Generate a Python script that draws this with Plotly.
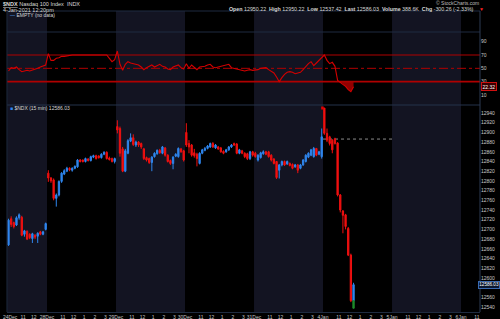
import plotly.graph_objects as go

W, H = 500, 319

# ---------------- data ----------------
day_labels = ["24Dec", "28Dec", "29Dec", "30Dec", "31Dec", "4Jan", "5Jan", "6Jan"]
day_first_bar = [0, 15, 41, 67, 93, 119, 145, 171]
day_bar_count = [15, 26, 26, 26, 26, 26, 26, 26]
hour_labels = ["11", "12", "1", "2", "3"]
hour_bar_offsets = [6, 10, 14, 18, 22]
shaded_days = ["24Dec", "29Dec", "31Dec", "5Jan"]

open_ = [
    12668, 12722, 12714, 12709, 12724, 12725, 12690, 12696, 12690, 12681, 12688, 12686, 12695, 12690, 12700,
    12816, 12806, 12802, 12764, 12771, 12799, 12814, 12820, 12826, 12822, 12826, 12829, 12843, 12843, 12840,
    12845, 12842, 12849, 12852, 12851, 12848, 12855, 12859, 12847, 12846, 12840,
    12912, 12908, 12866, 12820, 12857, 12882, 12889, 12874, 12880, 12877, 12866, 12848, 12846, 12838, 12850,
    12856, 12863, 12857, 12868, 12853, 12842, 12836, 12851, 12850, 12866, 12862,
    12900, 12877, 12874, 12858, 12855, 12836, 12857, 12863, 12867, 12870, 12877, 12868, 12870, 12868, 12861,
    12860, 12864, 12870, 12877, 12876, 12857, 12862, 12857, 12856, 12846, 12860,
    12857, 12843, 12848, 12856, 12860, 12860, 12853, 12845, 12840, 12822, 12833, 12840, 12835, 12836, 12834,
    12829, 12833, 12826, 12833, 12840, 12849, 12853, 12850, 12867, 12855, 12850,
    12950.22, 12898, 12891, 12884, 12887, 12878, 12771, 12738, 12730, 12702, 12647, 12553,
]
high = [
    12722, 12727, 12716, 12727, 12733, 12728, 12699, 12698, 12692, 12693, 12690, 12694, 12697, 12697, 12714,
    12822, 12808, 12805, 12774, 12801, 12818, 12824, 12829, 12828, 12828, 12832, 12845, 12845, 12844, 12848,
    12847, 12852, 12854, 12854, 12853, 12857, 12861, 12861, 12850, 12848, 12848,
    12925, 12912, 12870, 12866, 12886, 12898, 12896, 12883, 12882, 12879, 12868, 12850, 12848, 12851, 12859,
    12865, 12866, 12872, 12870, 12855, 12844, 12851, 12857, 12869, 12868, 12864,
    12919, 12884, 12876, 12866, 12858, 12859, 12866, 12870, 12874, 12879, 12880, 12876, 12872, 12870, 12863,
    12866, 12872, 12876, 12879, 12878, 12866, 12864, 12859, 12858, 12862, 12862,
    12860, 12855, 12860, 12863, 12862, 12862, 12855, 12847, 12841, 12835, 12842, 12842, 12842, 12838, 12836,
    12835, 12835, 12835, 12845, 12855, 12859, 12866, 12870, 12867, 12862, 12908,
    12950.22, 12908, 12893, 12886, 12889, 12880, 12773, 12740, 12732, 12705, 12650, 12590,
]
low = [
    12666, 12705, 12702, 12707, 12720, 12686, 12685, 12678, 12680, 12672, 12680, 12672, 12688, 12688, 12698,
    12798, 12796, 12760, 12747, 12768, 12796, 12812, 12818, 12820, 12819, 12824, 12827, 12838, 12838, 12838,
    12840, 12840, 12847, 12844, 12846, 12846, 12853, 12844, 12842, 12838, 12836,
    12898, 12850, 12818, 12818, 12855, 12880, 12872, 12870, 12870, 12866, 12843, 12840, 12835, 12820, 12848,
    12854, 12856, 12855, 12850, 12838, 12833, 12824, 12849, 12848, 12858, 12840,
    12870, 12857, 12850, 12848, 12830, 12834, 12855, 12861, 12865, 12868, 12868, 12866, 12864, 12858, 12855,
    12858, 12862, 12868, 12872, 12855, 12855, 12855, 12847, 12843, 12843, 12850,
    12848, 12840, 12846, 12854, 12853, 12848, 12840, 12834, 12804, 12805, 12830, 12831, 12833, 12830, 12824,
    12827, 12816, 12824, 12831, 12838, 12847, 12851, 12848, 12851, 12853, 12846,
    12895, 12880, 12873, 12857, 12875, 12768, 12735, 12692, 12700, 12645, 12550, 12553,
]
close = [
    12719, 12710, 12706, 12724, 12730, 12688, 12697, 12680, 12683, 12691, 12684, 12692, 12690, 12695, 12712,
    12806, 12800, 12764, 12771, 12799, 12816, 12821, 12826, 12823, 12826, 12830, 12843, 12840, 12840, 12846,
    12842, 12850, 12852, 12846, 12848, 12855, 12859, 12846, 12844, 12840, 12846,
    12905, 12857, 12820, 12862, 12883, 12889, 12875, 12880, 12874, 12870, 12846, 12843, 12838, 12849, 12857,
    12863, 12858, 12870, 12853, 12840, 12836, 12849, 12855, 12867, 12860, 12843,
    12874, 12870, 12853, 12852, 12846, 12857, 12864, 12867, 12872, 12877, 12870, 12874, 12866, 12860, 12857,
    12864, 12870, 12874, 12874, 12857, 12864, 12857, 12850, 12846, 12860, 12853,
    12850, 12853, 12858, 12860, 12855, 12850, 12843, 12836, 12807, 12833, 12840, 12833, 12840, 12832, 12826,
    12833, 12822, 12833, 12843, 12853, 12857, 12864, 12867, 12853, 12860, 12891,
    12898, 12884, 12877, 12864, 12877, 12771, 12740, 12729, 12706, 12647, 12553, 12586.03,
]
# lower (green) part of the still-forming last bar
last_bar_open = [12553]
last_bar_low = [12537.42]

rsi = [
    46, 51, 50, 52, 48, 45, 46, 47, 46, 47, 49, 50, 52, 53, 55,
    72, 62, 62, 65, 66, 68, 68, 69, 69, 70, 70, 70, 71, 71, 70,
    71, 71, 71, 71, 71, 71, 71, 70, 65, 60, 63,
    76, 56, 47, 56, 60, 58, 57, 56, 55, 52, 48, 51, 53, 55, 52,
    54, 56, 53, 52, 49, 48, 52, 54, 55, 51, 49,
    57, 50, 55, 52, 48, 52, 52, 53, 55, 56, 52, 51, 52, 53, 55,
    55, 56, 51, 50, 50, 49, 48, 46, 47, 48, 47,
    47, 48, 50, 51, 51, 48, 46, 43, 37, 30, 36, 41, 44, 45, 44,
    42, 43, 44, 48, 53, 57, 60, 54, 58, 62, 66,
    70, 62, 57, 59, 53, 32, 29, 27, 23, 18, 15, 22.32,
]
rsi_levels = [70, 50, 30]
rsi_ticks = [10, 30, 50, 70, 90]
price_ticks = [v for v in range(12540, 12941, 20) if v != 12580]  # 12580 sits under the last-price box
prev_close = 12886.29
last_price = 12586.03
last_rsi = 22.32

# ---------------- helpers ----------------
def px(x):
    return x / W

def py(y):
    return 1 - y / H

x_idx = list(range(len(close)))
X_RANGE = [-0.57, 177.65]
RSI_RANGE = [-5, 136]
PRICE_RANGE = [12529.7, 12956.5]

PLOT_L, PLOT_R = 7, 480
RSI_TOP, SEP, PLOT_B = 11, 105, 312

BAND = "#131422"
BORDER = "#1f2b40"
TXT = "#d8d8d8"
FONT = "Liberation Sans"

fig = go.Figure()

# RSI oversold fill (below 30)
fx, fy = [], []
for i in range(1, len(rsi)):
    a, b = rsi[i - 1], rsi[i]
    if a >= 30 > b:
        t = (a - 30) / (a - b)
        fx.append(i - 1 + t)
        fy.append(30)
    if b < 30:
        fx.append(i)
        fy.append(b)
if fx:
    fx.append(fx[-1]); fy.append(30)
    fig.add_trace(go.Scatter(x=fx, y=fy, fill="toself", mode="none",
                             fillcolor="rgba(170,0,0,0.85)", xaxis="x", yaxis="y",
                             hoverinfo="skip", showlegend=False))

fig.add_trace(go.Scatter(x=x_idx, y=rsi, mode="lines", line=dict(color="#d40000", width=1.1),
                         xaxis="x", yaxis="y", showlegend=False))

fig.add_trace(go.Candlestick(
    x=x_idx, open=open_, high=high, low=low, close=close,
    increasing=dict(line=dict(color="#2f86ee", width=1), fillcolor="#2f86ee"),
    decreasing=dict(line=dict(color="#f01010", width=1), fillcolor="#f01010"),
    xaxis="x", yaxis="y2", showlegend=False, whiskerwidth=0))

fig.add_trace(go.Candlestick(
    x=[x_idx[-1]], open=last_bar_open, high=last_bar_open, low=last_bar_low, close=last_bar_low,
    increasing=dict(line=dict(color="#1f8a2a", width=1), fillcolor="#1f8a2a"),
    decreasing=dict(line=dict(color="#1f8a2a", width=1), fillcolor="#1f8a2a"),
    xaxis="x", yaxis="y2", showlegend=False, whiskerwidth=0))

# ---------------- x ticks ----------------
tickvals, ticktext = [], []
for lab, first, n in zip(day_labels, day_first_bar, day_bar_count):
    b = first - 0.5
    # the first day's label is nudged right so it stays inside the page
    tickvals.append(b if b > 0 else b + 1.1); ticktext.append(lab)
    for hl, off in zip(hour_labels, hour_bar_offsets):
        v = b + off
        if off <= n - 2 and v < X_RANGE[1]:
            tickvals.append(v); ticktext.append(hl)

shapes = []
# day bands
for lab, first, n in zip(day_labels, day_first_bar, day_bar_count):
    if lab in shaded_days:
        shapes.append(dict(type="rect", xref="x", yref="paper", x0=first - 0.5, x1=first - 0.5 + n,
                           y0=py(PLOT_B), y1=py(RSI_TOP), fillcolor=BAND, line=dict(width=0), layer="below"))
# rsi levels
for lv in rsi_levels:
    shapes.append(dict(type="line", xref="paper", yref="y", x0=px(PLOT_L), x1=px(PLOT_R), y0=lv, y1=lv,
                       line=dict(color="#b00000", width=1.6 if lv == 30 else 1,
                                 dash="dashdot" if lv == 50 else "solid"), layer="below"))
# prev close dotted line
shapes.append(dict(type="line", xref="x", yref="y2", x0=day_first_bar[5] - 0.5, x1=day_first_bar[6] - 0.5,
                   y0=prev_close, y1=prev_close, line=dict(color="#8a8a8a", width=1, dash="dot"), layer="below"))
# borders
for yy in (RSI_TOP, 32, SEP):
    shapes.append(dict(type="line", xref="paper", yref="paper", x0=px(PLOT_L), x1=px(PLOT_R),
                       y0=py(yy), y1=py(yy), line=dict(color=BORDER if yy != SEP else "#24324a", width=1)))
shapes.append(dict(type="line", xref="paper", yref="paper", x0=px(PLOT_L), x1=px(PLOT_L),
                   y0=py(PLOT_B), y1=py(RSI_TOP), line=dict(color=BORDER, width=1)))
shapes.append(dict(type="line", xref="paper", yref="paper", x0=px(PLOT_R), x1=px(PLOT_R),
                   y0=py(PLOT_B), y1=py(RSI_TOP), line=dict(color="#2c3a52", width=1)))
# small red marker at today's start
shapes.append(dict(type="rect", xref="x", yref="paper", x0=day_first_bar[5] - 1.2, x1=day_first_bar[5] - 0.2,
                   y0=py(109.5), y1=py(106.5), fillcolor="#e00000", line=dict(width=0)))

ann = []
def text(x, y, s, size=5.5, color=TXT, xanchor="left"):
    ann.append(dict(x=px(x), y=py(y), xref="paper", yref="paper", text=s, showarrow=False,
                    xanchor=xanchor, yanchor="middle", font=dict(size=size, color=color, family=FONT)))

text(1, 4, "<b><u>$NDX</u></b> Nasdaq 100 Index  INDX")
text(1, 9.6, "4-Jan-2021 12:20pm")
text(481, 3, "© StockCharts.com", size=5, color="#bdbdbd", xanchor="right")
text(476, 8.6, "<b>Open</b> 12950.22  <b>High</b> 12950.22  <b>Low</b> 12537.42  <b>Last</b> 12586.03  "
               "<b>Volume</b> 388.6K  <b>Chg</b> -300.26 (-2.33%)", size=5.3, xanchor="right")
text(477, 8.6, "▼", size=5, color="#ff2020")
text(8, 14.6, "<span style='color:#5aa8ff'>—</span> EMPTY (no data)", size=5)
text(8, 107.6, "<span style='color:#2f86ee'>■</span> $NDX (15 min) 12586.03", size=5)

ann.append(dict(x=px(499.5), y=last_price, xref="paper", yref="y2", text="12586.03", showarrow=False,
                xanchor="right", yanchor="middle", font=dict(size=4.6, color="#ffffff", family=FONT),
                bgcolor="#0b1830", bordercolor="#3a6ab0", borderwidth=1, borderpad=0.3))
ann.append(dict(x=px(481), y=last_rsi, xref="paper", yref="y", text="22.32", showarrow=False,
                xanchor="left", yanchor="middle", font=dict(size=5, color="#ffffff", family=FONT),
                bgcolor="#3a0000", bordercolor="#d01010", borderwidth=1, borderpad=0.5))

fig.update_layout(
    width=W, height=H, margin=dict(l=0, r=0, t=0, b=0),
    paper_bgcolor="#000000", plot_bgcolor="rgba(0,0,0,0)",
    font=dict(family=FONT, color=TXT, size=5),
    showlegend=False, shapes=shapes, annotations=ann,
    xaxis=dict(domain=[px(PLOT_L), px(PLOT_R)], range=X_RANGE, anchor="y2",
               tickmode="array", tickvals=tickvals, ticktext=ticktext, tickangle=0,
               tickfont=dict(size=5, color="#c8c8c8", family=FONT),
               showgrid=False, zeroline=False, showline=True, linecolor=BORDER,
               ticks="", rangeslider=dict(visible=False), fixedrange=True, automargin=False),
    yaxis=dict(domain=[py(SEP), py(RSI_TOP)], range=RSI_RANGE, side="right", anchor="x",
               tickmode="array", tickvals=rsi_ticks, ticktext=[str(v) for v in rsi_ticks],
               tickfont=dict(size=5, color="#c8c8c8", family=FONT), automargin=False,
               showgrid=False, zeroline=False, showline=False, ticks=""),
    yaxis2=dict(domain=[py(PLOT_B), py(SEP)], range=PRICE_RANGE, side="right", anchor="x",
                tickmode="array", tickvals=price_ticks, ticktext=[str(v) for v in price_ticks],
                tickfont=dict(size=5, color="#c8c8c8", family=FONT), automargin=False,
                showgrid=False, zeroline=False, showline=False, ticks=""),
)

fig.write_html("out.html")
